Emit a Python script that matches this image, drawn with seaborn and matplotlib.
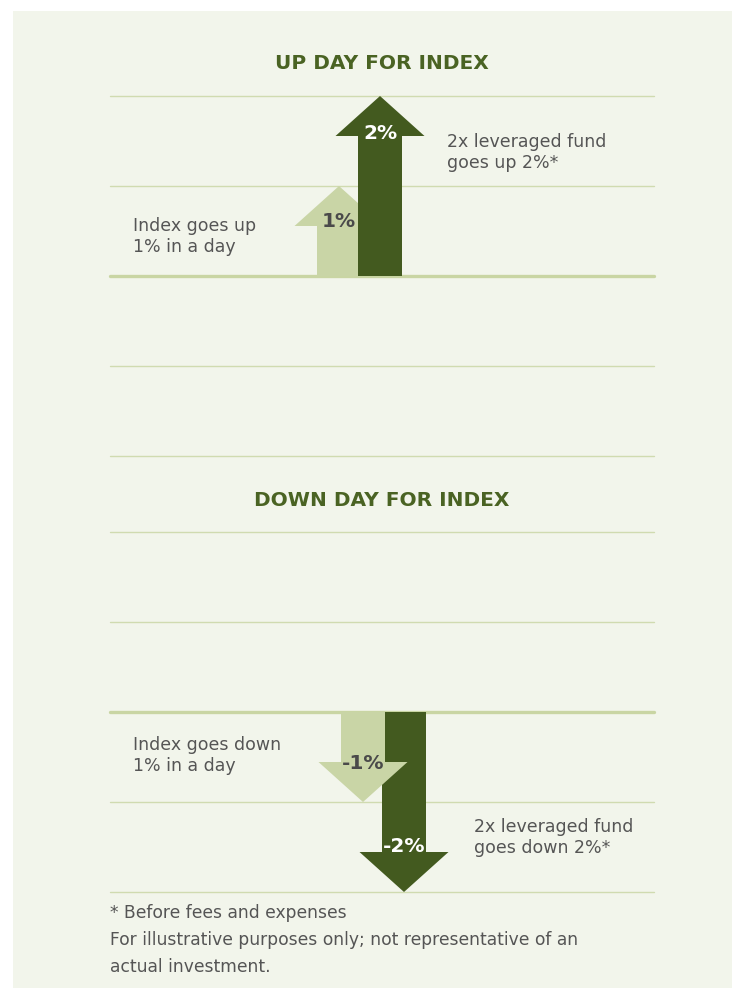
import matplotlib
matplotlib.use("Agg")
import matplotlib.pyplot as plt
import seaborn as sns
import pandas as pd
import numpy as np
from matplotlib.patches import Rectangle

# ---------------- data ----------------
funds = ["Index", "2x leveraged fund"]
up_change = [1, 2]          # % change on an up day
down_change = [-1, -2]      # % change on a down day
up_labels = ["1%", "2%"]
down_labels = ["-1%", "-2%"]
grid_levels = [-2, -1, 0, 1, 2]
up_title = "UP DAY FOR INDEX"
down_title = "DOWN DAY FOR INDEX"
up_notes = ["Index goes up\n1% in a day", "2x leveraged fund\ngoes up 2%*"]
down_notes = ["Index goes down\n1% in a day", "2x leveraged fund\ngoes down 2%*"]
footnote = "* Before fees and expenses\nFor illustrative purposes only; not representative of an\nactual investment."

# ---------------- style ----------------
BG = "#f2f5eb"
GRID = "#d0dbb0"
BASE = "#c9d5a3"
DARK = "#435a1f"
LIGHT = "#c9d5a6"
TITLE = "#4a6323"
TEXT = "#555555"

sns.set_theme(style="white")
plt.rcParams["font.family"] = ["DejaVu Sans"]

W, H = 732, 988
fig = plt.figure(figsize=(W / 100, H / 100), dpi=100)
fig.patch.set_facecolor("white")
fig.patches.append(Rectangle((13 / W, 0), 1 - 13 / W, (H - 11) / H,
                             transform=fig.transFigure, facecolor=BG,
                             edgecolor="none", zorder=-10))


def fx(x):
    return x / W


def fy(y):
    return 1 - y / H


PX_PER_X = 41.0       # pixels per category step
PX_PER_Y = 90.0       # pixels per 1 %
AX_LEFT, AX_RIGHT = 110, 654
shaft_w = 44 / PX_PER_X
head_w = 89 / PX_PER_X
head_len = 40 / PX_PER_Y


def panel(top_px, values, labels, first_x_px, front, label_y, label_colors):
    ax = fig.add_axes([fx(AX_LEFT), fy(top_px + 4 * PX_PER_Y),
                       (AX_RIGHT - AX_LEFT) / W, 4 * PX_PER_Y / H])
    ax.set_facecolor("none")
    ax.set_zorder(1)
    sign = np.sign(values[0])
    shafts = [v - sign * head_len * 0.6 for v in values]
    df = pd.DataFrame({"fund": funds, "shaft": shafts})
    sns.barplot(data=df, x="fund", y="shaft", hue="fund", order=funds,
                hue_order=funds, palette=[LIGHT, DARK], width=shaft_w,
                legend=False, ax=ax, saturation=1, linewidth=0)
    colors = [LIGHT, DARK]
    for i, (bar, v) in enumerate(zip(ax.patches, values)):
        z = 3 if i == front else 2
        bar.set_zorder(z)
        base = v - sign * head_len
        ax.fill([i - head_w / 2, i + head_w / 2, i], [base, base, v],
                color=colors[i], zorder=z, linewidth=0)
        ax.text(i, label_y[i], labels[i], ha="center", va="center",
                fontsize=14.5, fontweight="bold", color=label_colors[i],
                zorder=5)
    for g in grid_levels:
        ax.axhline(g, color=BASE if g == 0 else GRID,
                   lw=2.4 if g == 0 else 1.0, zorder=1, clip_on=False)
    x0 = -(first_x_px - AX_LEFT) / PX_PER_X
    ax.set_xlim(x0, x0 + (AX_RIGHT - AX_LEFT) / PX_PER_X)
    ax.set_ylim(-2, 2)
    ax.set_axis_off()
    return ax


panel(96, up_change, up_labels, 339, front=1,
      label_y=[0.61, 1.58], label_colors=["#4a4a4a", "white"])
panel(532, down_change, down_labels, 363, front=0,
      label_y=[-0.57, -1.5], label_colors=["#4a4a4a", "white"])

# titles
fig.text(fx(382), fy(69), up_title, ha="center", va="baseline",
         fontsize=14.5, fontweight="bold", color=TITLE)
fig.text(fx(382), fy(506), down_title, ha="center", va="baseline",
         fontsize=14.5, fontweight="bold", color=TITLE)

# annotations (y = baseline of last line)
fig.text(fx(133), fy(252), up_notes[0], ha="left", va="baseline",
         fontsize=12.5, color=TEXT, linespacing=1.2)
fig.text(fx(447), fy(168), up_notes[1], ha="left", va="baseline",
         fontsize=12.5, color=TEXT, linespacing=1.2)
fig.text(fx(133), fy(771), down_notes[0], ha="left", va="baseline",
         fontsize=12.5, color=TEXT, linespacing=1.2)
fig.text(fx(474), fy(853), down_notes[1], ha="left", va="baseline",
         fontsize=12.5, color=TEXT, linespacing=1.2)

# footnote
fig.text(fx(110), fy(972), footnote, ha="left", va="baseline",
         fontsize=12.3, color=TEXT, linespacing=1.64)

fig.savefig("out.png", dpi=100, facecolor="white")
